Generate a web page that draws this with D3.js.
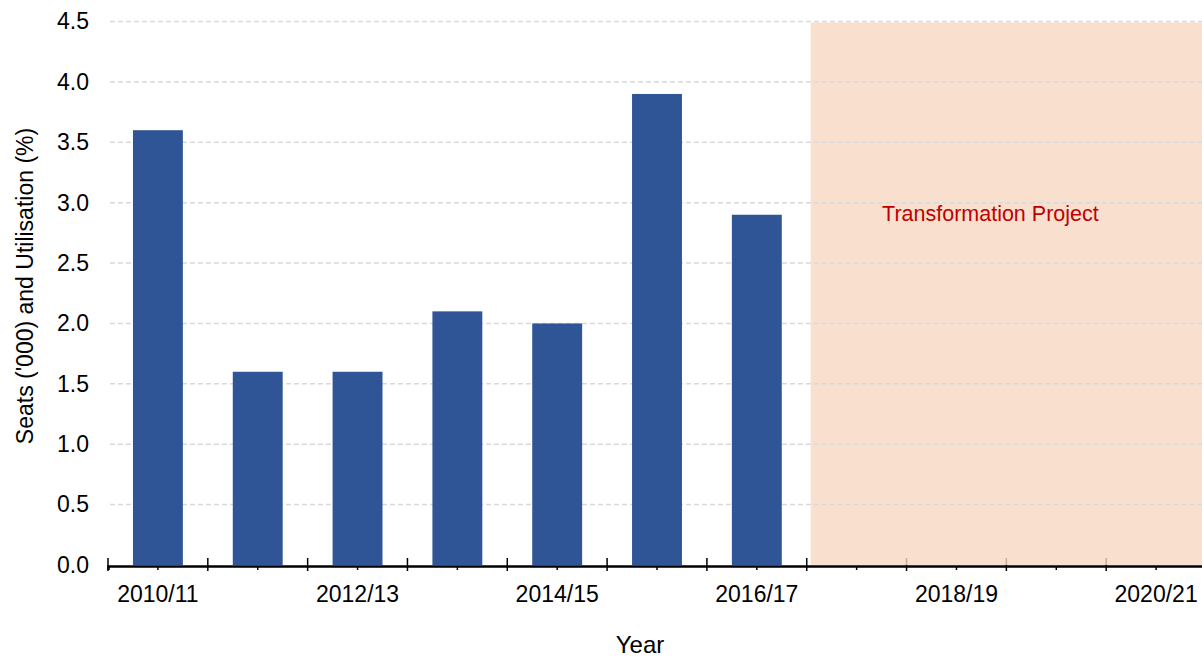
<!DOCTYPE html>
<html>
<head>
<meta charset="utf-8">
<script src="https://cdn.jsdelivr.net/npm/d3@7"></script>
<style>
  body { margin: 0; background: #fff; }
  svg { display: block; font-family: "Liberation Sans", Arial, sans-serif; }
</style>
</head>
<body>
<svg width="1202" height="657"></svg>
<script>
let years = ["2010/11", "2011/12", "2012/13", "2013/14", "2014/15", "2015/16",
             "2016/17", "2017/18", "2018/19", "2019/20", "2020/21"];
let seats = [3.6, 1.6, 1.6, 2.1, 2.0, 3.9, 2.9];
let yTicks = [0, 0.5, 1.0, 1.5, 2.0, 2.5, 3.0, 3.5, 4.0, 4.5];
let projectStart = "2017/18",
    projectLabel = "Transformation Project";

let svg = d3.select("svg"),
    plotLeft = 108,
    plotRight = 1206,
    plotTop = 21.5,
    plotBottom = 565;

let x = d3.scaleBand().domain(years).range([plotLeft, plotRight]),
    xBar = d3.scaleBand().domain(years).range([plotLeft, plotRight]).paddingInner(0.5).paddingOuter(0.25),
    y = d3.scaleLinear().domain([0, 4.5]).range([plotBottom, plotTop]);

// x axis: small ticks at centres, labels every other year
let xAxis = svg.append("g")
    .attr("transform", "translate(0," + (plotBottom + 1) + ")")
    .call(d3.axisBottom(x)
      .tickSize(4)
      .tickPadding(16)
      .tickFormat(function(d, i) { return i % 2 ? "" : d; }));

xAxis.select(".domain").attr("stroke", "#000").attr("stroke-width", 2.5);
xAxis.selectAll(".tick line").attr("stroke", "#000").attr("stroke-width", 1.5);
xAxis.selectAll(".tick text")
    .attr("font-size", 23)
    .attr("fill", "#000");

// big ticks at the band edges
xAxis.selectAll(".edge")
    .data(years.map(function(d) { return x(d); }).concat([plotRight]))
  .enter().append("line")
    .attr("class", "edge")
    .attr("x1", function(d) { return d; })
    .attr("x2", function(d) { return d; })
    .attr("y1", -8)
    .attr("y2", 5)
    .attr("stroke", "#000")
    .attr("stroke-width", 1.5);

// shaded project period
svg.append("rect")
    .attr("x", x(projectStart) + x.step() * 0.04)
    .attr("y", y(4.5) + 1)
    .attr("width", plotRight - x(projectStart))
    .attr("height", y(0) - y(4.5) - 1)
    .attr("fill", "#F6D7C2")
    .attr("fill-opacity", 0.8);

// grid
svg.append("g")
  .selectAll("line")
    .data(yTicks.filter(function(d) { return d > 0; }))
  .enter().append("line")
    .attr("x1", plotLeft + 2)
    .attr("x2", 1202)
    .attr("y1", function(d) { return y(d); })
    .attr("y2", function(d) { return y(d); })
    .attr("stroke", "#d9d9d9")
    .attr("stroke-width", 1.5)
    .attr("stroke-dasharray", "5,3");

// y axis
let yAxis = svg.append("g")
    .attr("transform", "translate(" + plotLeft + ",0)")
    .call(d3.axisLeft(y)
      .tickValues(yTicks)
      .tickSize(0)
      .tickPadding(19)
      .tickFormat(d3.format(".1f")));

yAxis.select(".domain").remove();
yAxis.selectAll(".tick text")
    .attr("font-size", 23)
    .attr("fill", "#000");

// bars
svg.append("g")
  .selectAll("rect")
    .data(seats)
  .enter().append("rect")
    .attr("x", function(d, i) { return xBar(years[i]); })
    .attr("y", function(d) { return y(d); })
    .attr("width", xBar.bandwidth())
    .attr("height", function(d) { return y(0) - y(d); })
    .attr("fill", "#2F5597");

svg.append("text")
    .attr("x", x("2018/19") + x.step() * 0.84)
    .attr("y", y(2.9))
    .attr("dy", "0.3em")
    .attr("text-anchor", "middle")
    .attr("font-size", 21.5)
    .attr("fill", "#C00000")
    .text(projectLabel);

svg.append("text")
    .attr("x", 640)
    .attr("y", 653)
    .attr("text-anchor", "middle")
    .attr("font-size", 24)
    .text("Year");

svg.append("text")
    .attr("transform", "translate(33,286) rotate(-90)")
    .attr("text-anchor", "middle")
    .attr("font-size", 23)
    .text("Seats ('000) and Utilisation (%)");
</script>
</body>
</html>
